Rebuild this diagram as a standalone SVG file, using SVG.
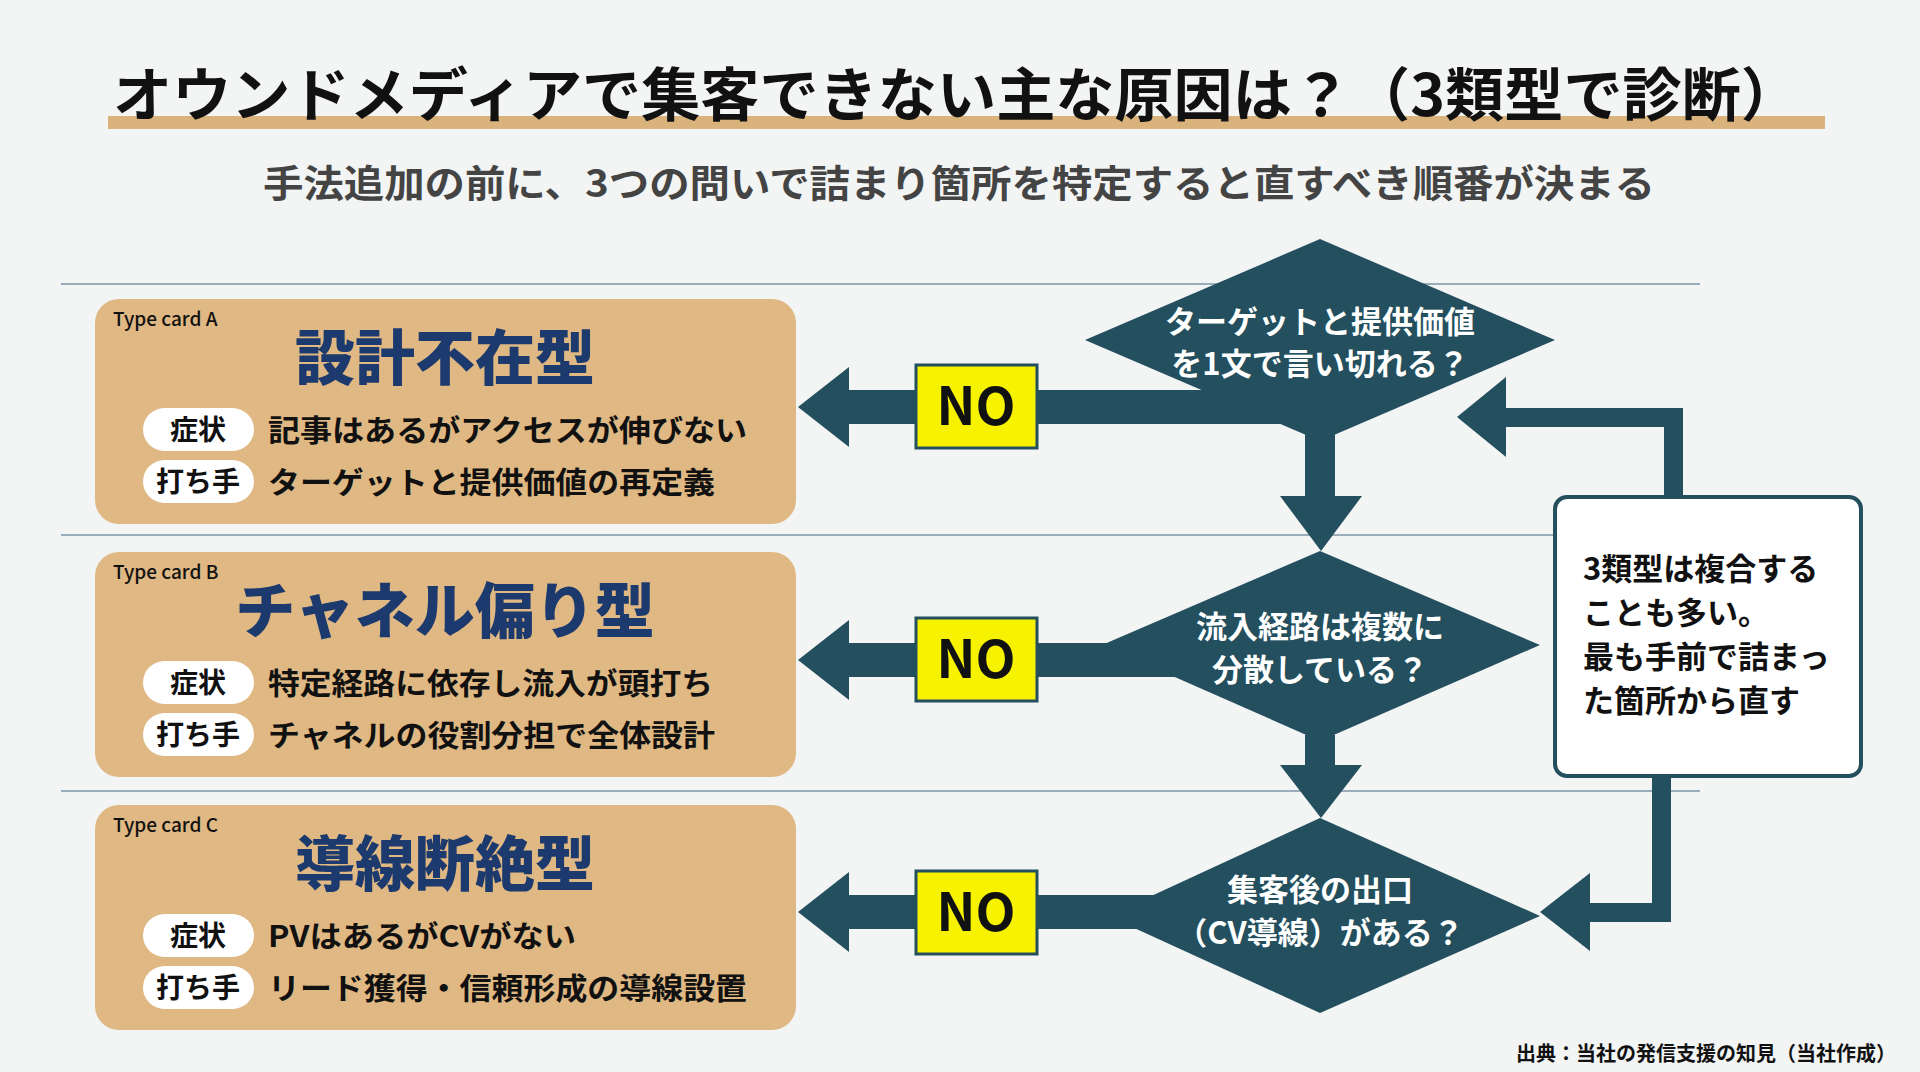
<svg xmlns="http://www.w3.org/2000/svg" width="1920" height="1072" viewBox="0 0 1920 1072">
<style>
text{font-family:"Noto Sans CJK JP","Noto Sans",sans-serif;font-weight:700}
.card{fill:#dfb883}
.tag{font-size:19px;font-weight:500;fill:#111}
.ct{font-size:60px;font-weight:900;fill:#1d3a6e;text-anchor:middle}
.pill{fill:#fff}
.pt{font-size:28px;fill:#111;text-anchor:middle}
.bt{font-size:30px;fill:#111}
.dia{fill:#234f5e}
.dt{font-size:31px;fill:#fff;text-anchor:middle}
.no{fill:#f7f200;stroke:#234f5e;stroke-width:3}
.nt{font-size:52px;fill:#111;text-anchor:middle}
.teal{fill:#234f5e}
.hl{stroke:#7d95a6;stroke-width:1.5}
</style>
<rect width="1920" height="1072" fill="#f3f4f4"/>
<rect x="108" y="116" width="1717" height="13" fill="#d9b27c"/>
<text x="113" y="116" font-size="58" font-weight="900" fill="#111" textLength="1687" lengthAdjust="spacingAndGlyphs">オウンドメディアで集客できない主な原因は？（3類型で診断）</text>
<text x="263" y="197" font-size="38" fill="#444" textLength="1392" lengthAdjust="spacingAndGlyphs">手法追加の前に、3つの問いで詰まり箇所を特定すると直すべき順番が決まる</text>
<g id="rules">
<line class="hl" x1="61" y1="284" x2="1700" y2="284"/>
<line class="hl" x1="61" y1="535" x2="1700" y2="535"/>
<line class="hl" x1="61" y1="791" x2="1700" y2="791"/>
</g>
<g id="cardA">
<rect class="card" x="95" y="299" width="701" height="225" rx="24"/>
<text class="tag" x="113" y="326">Type card A</text>
<text class="ct" x="445" y="380">設計不在型</text>
<rect class="pill" x="143" y="408" width="111" height="43" rx="21.5"/>
<text class="pt" x="198" y="440">症状</text>
<rect class="pill" x="143" y="460" width="111" height="43" rx="21.5"/>
<text class="pt" x="198" y="492">打ち手</text>
<text class="bt" x="268" y="441" textLength="479" lengthAdjust="spacingAndGlyphs">記事はあるがアクセスが伸びない</text>
<text class="bt" x="268" y="493" textLength="447" lengthAdjust="spacingAndGlyphs">ターゲットと提供価値の再定義</text>
</g>
<g id="cardB">
<rect class="card" x="95" y="552" width="701" height="225" rx="24"/>
<text class="tag" x="113" y="579">Type card B</text>
<text class="ct" x="445" y="633">チャネル偏り型</text>
<rect class="pill" x="143" y="661" width="111" height="43" rx="21.5"/>
<text class="pt" x="198" y="693">症状</text>
<rect class="pill" x="143" y="713" width="111" height="43" rx="21.5"/>
<text class="pt" x="198" y="745">打ち手</text>
<text class="bt" x="268" y="694" textLength="445" lengthAdjust="spacingAndGlyphs">特定経路に依存し流入が頭打ち</text>
<text class="bt" x="268" y="746" textLength="447" lengthAdjust="spacingAndGlyphs">チャネルの役割分担で全体設計</text>
</g>
<g id="cardC">
<rect class="card" x="95" y="805" width="701" height="225" rx="24"/>
<text class="tag" x="113" y="832">Type card C</text>
<text class="ct" x="445" y="886">導線断絶型</text>
<rect class="pill" x="143" y="914" width="111" height="43" rx="21.5"/>
<text class="pt" x="198" y="946">症状</text>
<rect class="pill" x="143" y="966" width="111" height="43" rx="21.5"/>
<text class="pt" x="198" y="998">打ち手</text>
<text class="bt" x="268" y="947" textLength="308" lengthAdjust="spacingAndGlyphs">PVはあるがCVがない</text>
<text class="bt" x="268" y="999" textLength="479" lengthAdjust="spacingAndGlyphs">リード獲得・信頼形成の導線設置</text>
</g>
<g id="connectors" class="teal">
<rect x="849" y="390" width="471" height="34"/>
<path d="M849,367 L798,407 L849,447 Z"/>
<rect x="849" y="643" width="471" height="34"/>
<path d="M849,620 L798,660 L849,700 Z"/>
<rect x="849" y="895" width="471" height="34"/>
<path d="M849,872 L798,912 L849,952 Z"/>
<rect x="1305" y="430" width="30" height="70"/>
<path d="M1280,496 H1362 L1321,551 Z"/>
<rect x="1305" y="735" width="30" height="32"/>
<path d="M1280,765 H1362 L1321,818 Z"/>
<rect x="1664" y="408" width="19" height="90"/>
<rect x="1500" y="408" width="183" height="19"/>
<path d="M1506,377 L1457,417 L1506,457 Z"/>
<rect x="1652" y="774" width="19" height="148"/>
<rect x="1585" y="903" width="86" height="19"/>
<path d="M1590,873 L1540,912 L1590,951 Z"/>
</g>
<g id="d1"><polygon class="dia" points="1320,239 1555,340 1320,441 1085,340"/>
<text class="dt" x="1320" y="333">ターゲットと提供価値</text>
<text class="dt" x="1320" y="375">を1文で言い切れる？</text></g>
<g id="d2"><polygon class="dia" points="1320,551 1540,645 1320,741 1102,645"/>
<text class="dt" x="1320" y="638">流入経路は複数に</text>
<text class="dt" x="1320" y="681">分散している？</text></g>
<g id="d3"><polygon class="dia" points="1320,818 1540,916 1320,1013 1108,916"/>
<text class="dt" x="1320" y="901">集客後の出口</text>
<text class="dt" x="1320" y="944">（CV導線）がある？</text></g>
<g id="no1"><rect class="no" x="916" y="365" width="121" height="83"/><text class="nt" x="976" y="425">NO</text></g>
<g id="no2"><rect class="no" x="916" y="618" width="121" height="83"/><text class="nt" x="976" y="678">NO</text></g>
<g id="no3"><rect class="no" x="916" y="871" width="121" height="83"/><text class="nt" x="976" y="931">NO</text></g>
<g id="note"><rect x="1555" y="497" width="306" height="279" rx="12" fill="#fff" stroke="#234f5e" stroke-width="4"/>
<text x="1583" y="580" font-size="31" fill="#111">3類型は複合する</text>
<text x="1583" y="624" font-size="31" fill="#111">ことも多い。</text>
<text x="1583" y="668" font-size="31" fill="#111">最も手前で詰まっ</text>
<text x="1583" y="712" font-size="31" fill="#111">た箇所から直す</text></g>
<text x="1896" y="1061" font-size="20" fill="#111" text-anchor="end">出典：当社の発信支援の知見（当社作成）</text>
</svg>
